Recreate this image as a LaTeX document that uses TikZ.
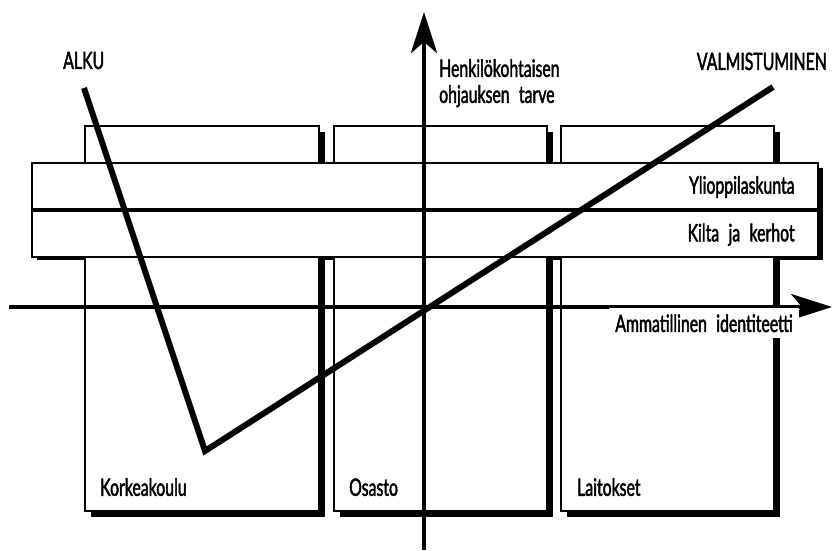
\documentclass[tikz,border=0pt]{standalone}
\usepackage{fontspec}
\setmainfont{Lato}[FakeStretch=0.66, FakeBold=1.8, WordSpace=2.3]
\usepackage{tikz}
\usetikzlibrary{positioning, shadows, arrows.meta}

\tikzset{
	unit/.style={draw, line width=1.8pt, fill=white, anchor=north west, inner sep=0pt, minimum height=385pt},
	band/.style={draw, line width=1.8pt, fill=white, anchor=north west, inner sep=0pt, minimum width=786pt, minimum height=46pt},
	heavy shadow/.style={drop shadow={shadow xshift=6pt, shadow yshift=-6pt, fill=black, opacity=1}},
	txt/.style={font=\fontsize{24pt}{26pt}\selectfont, inner sep=0pt},
	axis/.style={line width=4.5pt, -{Stealth[length=41pt, width=26pt, inset=11pt]}},
	route/.style={line width=6pt, line join=miter}
}

\begin{document}
\begin{tikzpicture}
	\useasboundingbox (0pt, 0pt) rectangle (832pt, 551pt);

		% shadow of the band, below the units
		\fill (37pt, 291pt) rectangle (823pt, 383pt);

		\node[unit, heavy shadow, minimum width=234pt] (korkeakoulu) at (84pt, 426pt) {};
		\node[unit, heavy shadow, minimum width=213pt] (osasto) at (333pt, 426pt) {};
		\node[unit, heavy shadow, minimum width=213pt] (laitokset) at (560pt, 426pt) {};

		\node[txt, anchor=base west] (korkeakoulu label) at ([shift={(16pt,16pt)}]korkeakoulu.south west) {Korkeakoulu};
		\node[txt, anchor=base west] (osasto label) at ([shift={(16pt,16pt)}]osasto.south west) {Osasto};
		\node[txt, anchor=base west] (laitokset label) at ([shift={(17pt,16pt)}]laitokset.south west) {Laitokset};

		\node[band] (ylioppilas) at (31pt, 389pt) {};
		\node[band, below=0pt of ylioppilas.south west, anchor=north west] (kilta) {};
		\node[txt, anchor=east, yshift=-1pt] (ylioppilas label) at ([xshift=-24pt]ylioppilas.east) {Ylioppilaskunta};
		\node[txt, anchor=east, yshift=-1pt] (kilta label) at ([xshift=-24pt]kilta.east) {Kilta ja kerhot};

		% axes
		\coordinate (x start) at (9pt, 244pt);
		\coordinate (x end) at (832pt, 244pt);
		\coordinate (y start) at (424pt, 1pt);
		\coordinate (y end) at (424pt, 539pt);
		\draw[axis] (x start) -- (x end);
		\draw[axis] (y start) -- (y end);

		\node[txt, anchor=base east, fill=white, inner sep=6pt] (identiteetti) at (799pt, 219pt) {Ammatillinen identiteetti};
		\node[txt, anchor=north west, align=left] (tarve) at (439pt, 492pt) {Henkilökohtaisen\\ohjauksen tarve};

		% the way from start to graduation
		\coordinate (alku end) at (84pt, 463pt);
		\coordinate (pohja) at (205pt, 100pt);
		\coordinate (valmis end) at (773pt, 464pt);
		\draw[route] (alku end) -- (pohja) -- (valmis end);

		\node[txt, anchor=base west] (alku) at (63pt, 482pt) {ALKU};
		\node[txt, anchor=base east] (valmistuminen) at (827pt, 481pt) {VALMISTUMINEN};
	\end{tikzpicture}
\end{document}
